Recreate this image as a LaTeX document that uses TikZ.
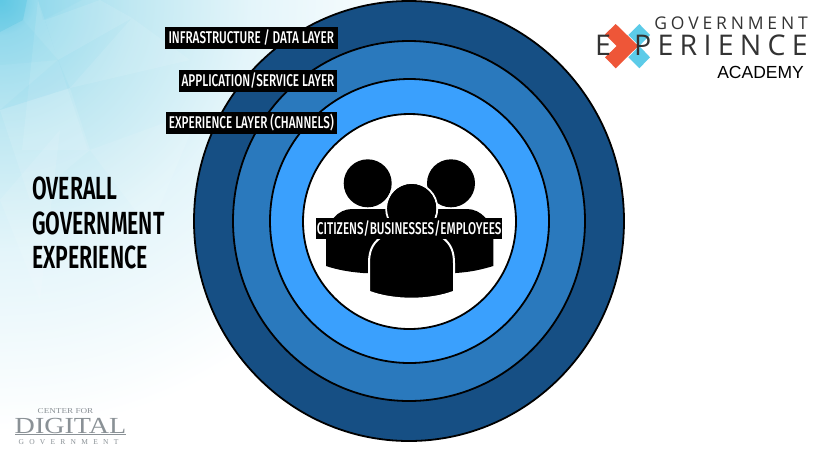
\documentclass[tikz,border=0pt]{standalone}
\usepackage{fontspec}
\usetikzlibrary{calc}
\newfontfamily\bannerfont[FakeStretch=0.69]{Fira Sans Medium}
\newfontfamily\headingfont[FakeStretch=0.665]{Fira Sans SemiBold}
\newfontfamily\logofont[LetterSpace=22]{Open Sans}
\newfontfamily\academyfont{Liberation Sans}
\newfontfamily\cdgfont[FakeStretch=1.22]{Liberation Serif}
\newfontfamily\cdgsmallfont[LetterSpace=70]{Liberation Serif}
\definecolor{ringOuter}{HTML}{164F84}
\definecolor{ringMiddle}{HTML}{2A79BD}
\definecolor{ringInner}{HTML}{3AA0FD}
\definecolor{logoOrange}{HTML}{EE5638}
\definecolor{logoBlue}{HTML}{5CCBE8}
\definecolor{cdgGrey}{HTML}{8A9196}
\definecolor{glowA}{HTML}{5FC8E4}
\definecolor{glowB}{HTML}{98DBED}
\definecolor{glowC}{HTML}{C0E8F2}
\definecolor{glowD}{HTML}{E4F5FA}
\definecolor{glowE}{HTML}{FFFFFF}
\pgfdeclareradialshading{cornerglow}{\pgfpoint{0bp}{0bp}}{color(0bp)=(glowA); color(1.5bp)=(glowB); color(5.5bp)=(glowC); color(10.5bp)=(glowD); color(18bp)=(glowE); color(50bp)=(glowE)}
\tikzset{
	ring/.style={draw=black, line width=1.8pt},
	banner/.style={fill=black, text=white, inner sep=0pt, minimum height=22, font=\bannerfont\fontsize{17}{18}\selectfont},
	facet/.style={fill=white, fill opacity=0.1},
	shadefacet/.style={fill=glowA, fill opacity=0.07},
	person/.style={fill=black},
	halo/.style={fill=black, draw=white, line width=2pt}
}
\begin{document}
\begin{tikzpicture}[x=1pt, y=-1pt]
	\useasboundingbox (0,0) rectangle (818,459);

	% Background wash with its facets
	\begin{scope}
		\clip (0,0) rectangle (818,459);
		\shade[shading=cornerglow] (-600,-600) rectangle (600,600);
		\fill[glowA, fill opacity=0.45] (0,0) -- (27,0) -- (23,20) -- (0,32) -- cycle;
		\fill[facet] (38,0) -- (58,60) -- (88,150) -- (22,150) -- cycle;
		\fill[shadefacet] (38,0) -- (82,0) -- (43,20) -- cycle;
		\fill[facet] (100,0) -- (132,18) -- (58,60) -- (45,20) -- cycle;
		\fill[shadefacet] (0,32) -- (23,20) -- (58,60) -- (0,65) -- cycle;
		\fill[facet] (0,110) -- (70,88) -- (90,150) -- (30,200) -- cycle;
		\fill[facet] (132,18) -- (190,60) -- (70,88) -- cycle;
		\fill[shadefacet] (0,110) -- (58,60) -- (70,88) -- cycle;
		\fill[facet] (0,200) -- (60,130) -- (40,300) -- cycle;
		\fill[facet] (90,150) -- (200,110) -- (150,230) -- cycle;
	\end{scope}

	% The four layers
	\fill[ring, fill=ringOuter] (409,221) ellipse (215 and 220);
	\fill[ring, fill=ringMiddle] (409,221) ellipse (176 and 180);
	\fill[ring, fill=ringInner] (409.5,221) ellipse (139.5 and 142);
	\fill[ring, fill=white] (409.5,221.5) ellipse (106.5 and 107.5);

	% Back row of people
	\fill[person] (367.7,183.3) circle (24);
	\fill[person] (451,183.3) circle (24);
	\fill[person] (326,266) -- (326,240) .. controls (326,222) and (338,209) .. (352,209) -- (467,209) .. controls (481,209) and (493.3,222) .. (493.3,240) -- (493.3,266) .. controls (480,270) and (470,272) .. (456,273) -- (363,273) .. controls (350,272) and (338,270) .. (326,266) -- cycle;

	% Front person, white edge keeps it apart
	\draw[halo] (411.7,208.5) circle (25.5);
	\draw[halo] (369,291.7) -- (369,263) .. controls (369,252) and (372,244) .. (380,238) -- (386,225) .. controls (395,222) and (428,222) .. (437,225) -- (443,238) .. controls (451,244) and (454,252) .. (454,263) -- (454,291.7) .. controls (430,301) and (393,301) .. (369,291.7) -- cycle;
	\fill[person] (411.7,208.5) circle (24.5);

	% Layer labels
	\node[banner, minimum width=172.5] (infra) at (251.3,38) {INFRASTRUCTURE / DATA LAYER};
	\node[banner, minimum width=158] (app) at (258,81) {APPLICATION/SERVICE LAYER};
	\node[banner, minimum width=170.5] (chan) at (251.3,123) {EXPERIENCE LAYER (CHANNELS)};
	\node[banner, minimum width=186.5, minimum height=21] (people) at (409.2,228.5) {CITIZENS/BUSINESSES/EMPLOYEES};

	% Heading at the left
	\node[anchor=north west, align=left, inner sep=0pt, font=\headingfont\fontsize{32}{34.5}\selectfont] (heading) at (32,177) {OVERALL\\GOVERNMENT\\EXPERIENCE};

	% Academy logo
	\fill[logoBlue] (639.3,24) -- (650,35) -- (639.3,46) -- (650,57.3) -- (639.3,68.3) -- (628.3,57.3) -- (639.3,46) -- (628.3,35) -- cycle;
	\fill[logoOrange] (615.7,24) -- (638.3,46) -- (615.7,68.3) -- (605,57.3) -- (616.7,46) -- (605,34.3) -- cycle;
	\node[anchor=east, inner sep=0pt, text=black!80, font=\logofont\fontsize{17.5}{20}\selectfont] (govt) at (808,23.7) {GOVERNMENT};
	\node[anchor=west, inner sep=0pt, text=black!80, font=\logofont\fontsize{28.5}{31}\selectfont] (expe) at (595,45.5) {E};
	\node[anchor=east, inner sep=0pt, text=black!80, font=\logofont\fontsize{28.5}{31}\selectfont] (rience) at (808,45.5) {PERIENCE};
	\node[anchor=east, inner sep=0pt, font=\academyfont\fontsize{17.5}{19}\selectfont] (academy) at (804,72) {ACADEMY};

	% Center for Digital Government logo
	\node[inner sep=0pt, text=cdgGrey, font=\cdgfont\fontsize{7.5}{9}\selectfont] (cfor) at (65.5,411.5) {CENTER FOR};
	\node[inner sep=0pt, text=cdgGrey, font=\cdgfont\fontsize{23}{24}\selectfont] (digital) at (70.5,425.5) {DIGITAL};
	\node[inner sep=0pt, text=cdgGrey, font=\cdgsmallfont\fontsize{7.5}{9}\selectfont] (cgov) at (68.5,442) {GOVERNMENT};
	\draw[cdgGrey, line width=0.7pt] (15,434.5) -- (126,434.5);

\end{tikzpicture}
\end{document}
